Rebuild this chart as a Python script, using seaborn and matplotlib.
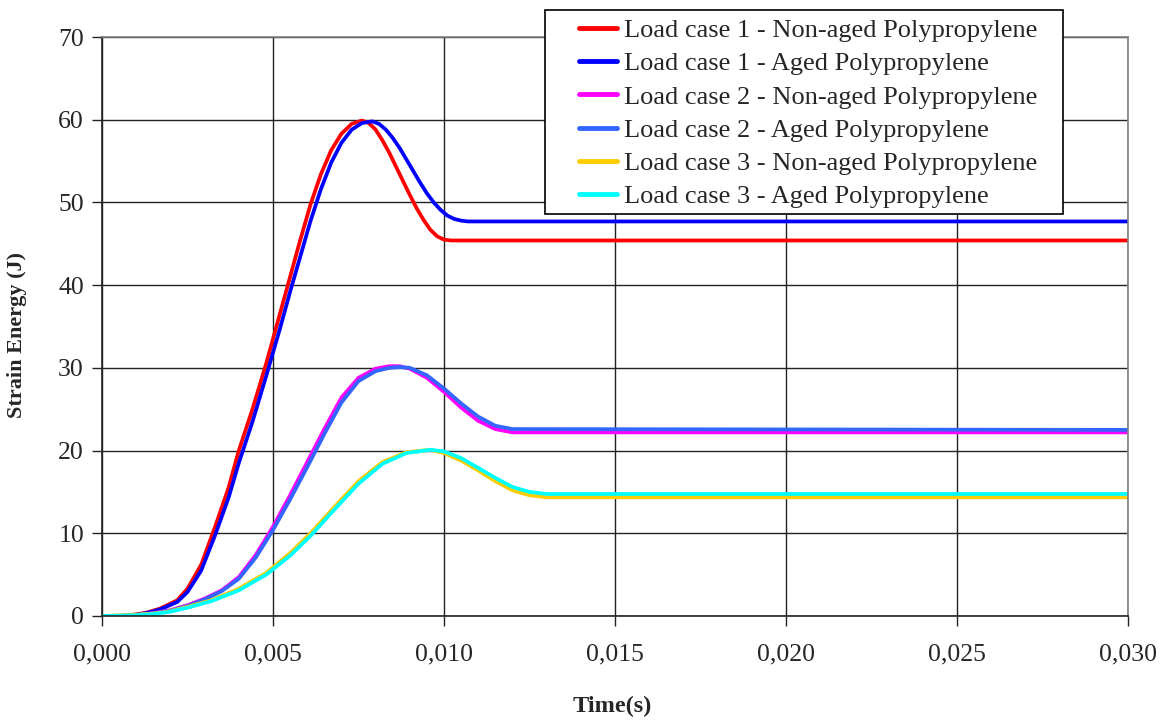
import numpy as np
import pandas as pd
import matplotlib
matplotlib.use("Agg")
import matplotlib.pyplot as plt
from matplotlib.patches import Rectangle
from matplotlib.ticker import FuncFormatter, MultipleLocator
import seaborn as sns

# values (time in s, strain energy in J)
lc1_non_t = [0.0, 0.0005, 0.0010, 0.0013, 0.0017, 0.0022, 0.0025, 0.0029, 0.0033, 0.0037, 0.0040,
             0.0044, 0.0048, 0.0052, 0.0055, 0.0058, 0.0061, 0.0064, 0.0067, 0.0070, 0.0073,
             0.0076, 0.0078, 0.0080, 0.0082, 0.0084, 0.0086, 0.0088, 0.0090, 0.0092, 0.0094,
             0.0096, 0.0098, 0.0100, 0.0102, 0.0300]
lc1_non_e = [0.0, 0.0, 0.2, 0.4, 0.9, 1.9, 3.3, 6.2, 10.7, 15.5, 20.0,
             25.0, 30.5, 36.5, 41.0, 45.5, 49.8, 53.4, 56.3, 58.3, 59.5,
             59.9, 59.6, 58.8, 57.5, 56.0, 54.3, 52.6, 50.9, 49.3, 47.9,
             46.7, 45.9, 45.5, 45.4, 45.4]

lc1_aged_t = [0.0, 0.0005, 0.0010, 0.0013, 0.0017, 0.0022, 0.0025, 0.0029, 0.0033, 0.0037, 0.0040,
              0.0044, 0.0048, 0.0052, 0.0055, 0.0058, 0.0061, 0.0064, 0.0067, 0.0070, 0.0073,
              0.0076, 0.0079, 0.0081, 0.0083, 0.0085, 0.0087, 0.0089, 0.0091, 0.0093, 0.0095,
              0.0097, 0.0099, 0.0101, 0.0103, 0.0105, 0.0107, 0.0300]
lc1_aged_e = [0.0, 0.0, 0.15, 0.35, 0.8, 1.7, 2.9, 5.5, 9.7, 14.3, 18.5,
              23.5, 29.0, 34.7, 39.2, 43.5, 47.8, 51.6, 54.8, 57.2, 58.8,
              59.6, 59.8, 59.5, 58.8, 57.8, 56.6, 55.2, 53.8, 52.4, 51.1,
              50.0, 49.1, 48.4, 48.0, 47.8, 47.7, 47.7]

lc2_t = [0.0, 0.0005, 0.0010, 0.0015, 0.0020, 0.0025, 0.0030, 0.0035, 0.0040, 0.0045, 0.0050,
         0.0055, 0.0060, 0.0065, 0.0070, 0.0075, 0.0080, 0.0084, 0.0087, 0.0090, 0.0095,
         0.0100, 0.0105, 0.0110, 0.0115, 0.0120, 0.0300]
lc2_non_e = [0.0, 0.0, 0.1, 0.35, 0.7, 1.3, 2.1, 3.1, 4.7, 7.4, 10.8,
             14.6, 18.6, 22.6, 26.4, 28.8, 29.9, 30.2, 30.2, 29.9, 28.8,
             27.1, 25.2, 23.6, 22.6, 22.2, 22.2]
lc2_aged_e = [0.0, 0.0, 0.1, 0.3, 0.65, 1.2, 2.0, 3.0, 4.5, 7.1, 10.4,
              14.1, 18.0, 22.0, 25.8, 28.4, 29.6, 30.0, 30.1, 30.0, 29.1,
              27.5, 25.7, 24.1, 23.0, 22.6, 22.5]

lc3_t = [0.0, 0.0010, 0.0015, 0.0019, 0.0025, 0.0032, 0.0040, 0.0045, 0.0048, 0.0055, 0.0061,
         0.0068, 0.0075, 0.0082, 0.0089, 0.0096, 0.0100, 0.0105, 0.0110, 0.0115, 0.0120,
         0.0125, 0.0130, 0.0300]
lc3_non_e = [0.0, 0.15, 0.3, 0.5, 1.1, 1.9, 3.3, 4.5, 5.2, 7.6, 10.0,
             13.2, 16.3, 18.6, 19.8, 20.1, 19.7, 18.8, 17.6, 16.3, 15.2,
             14.6, 14.35, 14.35]
lc3_aged_e = [0.0, 0.1, 0.25, 0.45, 1.0, 1.8, 3.1, 4.3, 5.0, 7.3, 9.7,
              12.9, 16.0, 18.4, 19.7, 20.1, 19.9, 19.1, 17.9, 16.7, 15.6,
              15.0, 14.75, 14.75]

labels = ["Load case 1 - Non-aged Polypropylene", "Load case 1 - Aged Polypropylene",
          "Load case 2 - Non-aged Polypropylene", "Load case 2 - Aged Polypropylene",
          "Load case 3 - Non-aged Polypropylene", "Load case 3 - Aged Polypropylene"]
colors = ["#FF0000", "#0000FF", "#FF00FF", "#3366FF", "#FFCC00", "#00FFFF"]

series = [(lc1_non_t, lc1_non_e), (lc1_aged_t, lc1_aged_e), (lc2_t, lc2_non_e),
          (lc2_t, lc2_aged_e), (lc3_t, lc3_non_e), (lc3_t, lc3_aged_e)]
frames = []
for lab, (t, e) in zip(labels, series):
    frames.append(pd.DataFrame({"Time": t, "Energy": e, "Series": lab}))
df = pd.concat(frames, ignore_index=True)

sns.set_style("white")
plt.rcParams["font.family"] = ["Liberation Serif", "DejaVu Serif"]

W, H = 1164, 723
fig = plt.figure(figsize=(W / 100, H / 100), dpi=100)
ax = fig.add_axes([102 / W, 1 - 616 / H, (1128 - 102) / W, (616 - 37) / H])

sns.lineplot(data=df, x="Time", y="Energy", hue="Series", hue_order=labels,
             palette=dict(zip(labels, colors)), linewidth=2.7, ax=ax,
             estimator=None, sort=False, legend=True)

ax.set_xlim(0, 0.030)
ax.set_ylim(0, 70)
ax.xaxis.set_major_locator(MultipleLocator(0.005))
ax.yaxis.set_major_locator(MultipleLocator(10))
ax.xaxis.set_major_formatter(FuncFormatter(lambda v, p: f"{v:.3f}".replace(".", ",")))
ax.grid(True, color="#222222", linewidth=1.0)
for s in ax.spines.values():
    s.set_color("#808080")
    s.set_linewidth(1.2)
ax.spines["left"].set_color("#222222")
ax.spines["bottom"].set_color("#222222")
ax.tick_params(axis="both", direction="out", length=7, width=1, color="#222222",
               labelsize=18.5, bottom=True, left=True)
ax.tick_params(axis="x", pad=13)
ax.tick_params(axis="y", pad=6)

ax.set_xlabel("Time(s)", fontsize=17.5, fontweight="bold")
ax.set_ylabel("Strain Energy (J)", fontsize=16, fontweight="bold")
ax.xaxis.set_label_coords(0.497, (616 - 706) / (616 - 37))
ax.xaxis.label.set_va("center")
ax.yaxis.set_label_coords((17 - 102) / (1128 - 102), 0.485)
ax.yaxis.label.set_va("center")

handles, labs = ax.get_legend_handles_labels()
ax.get_legend().remove()
frame = Rectangle((545 / W, 1 - 214 / H), (1063 - 545) / W, (214 - 10) / H,
                  transform=fig.transFigure, facecolor="white", edgecolor="black",
                  linewidth=1.2, zorder=2)
fig.patches.append(frame)
for h in handles:
    h.set_linewidth(3.5)
leg = fig.legend(handles, labs, loc="center", bbox_to_anchor=(808 / W, 1 - 113.5 / H),
                 frameon=False, fontsize=19, handlelength=1.45, handletextpad=0.27,
                 labelspacing=0.37, borderpad=0)
leg.set_zorder(3)

fig.savefig("out.png", dpi=100)
